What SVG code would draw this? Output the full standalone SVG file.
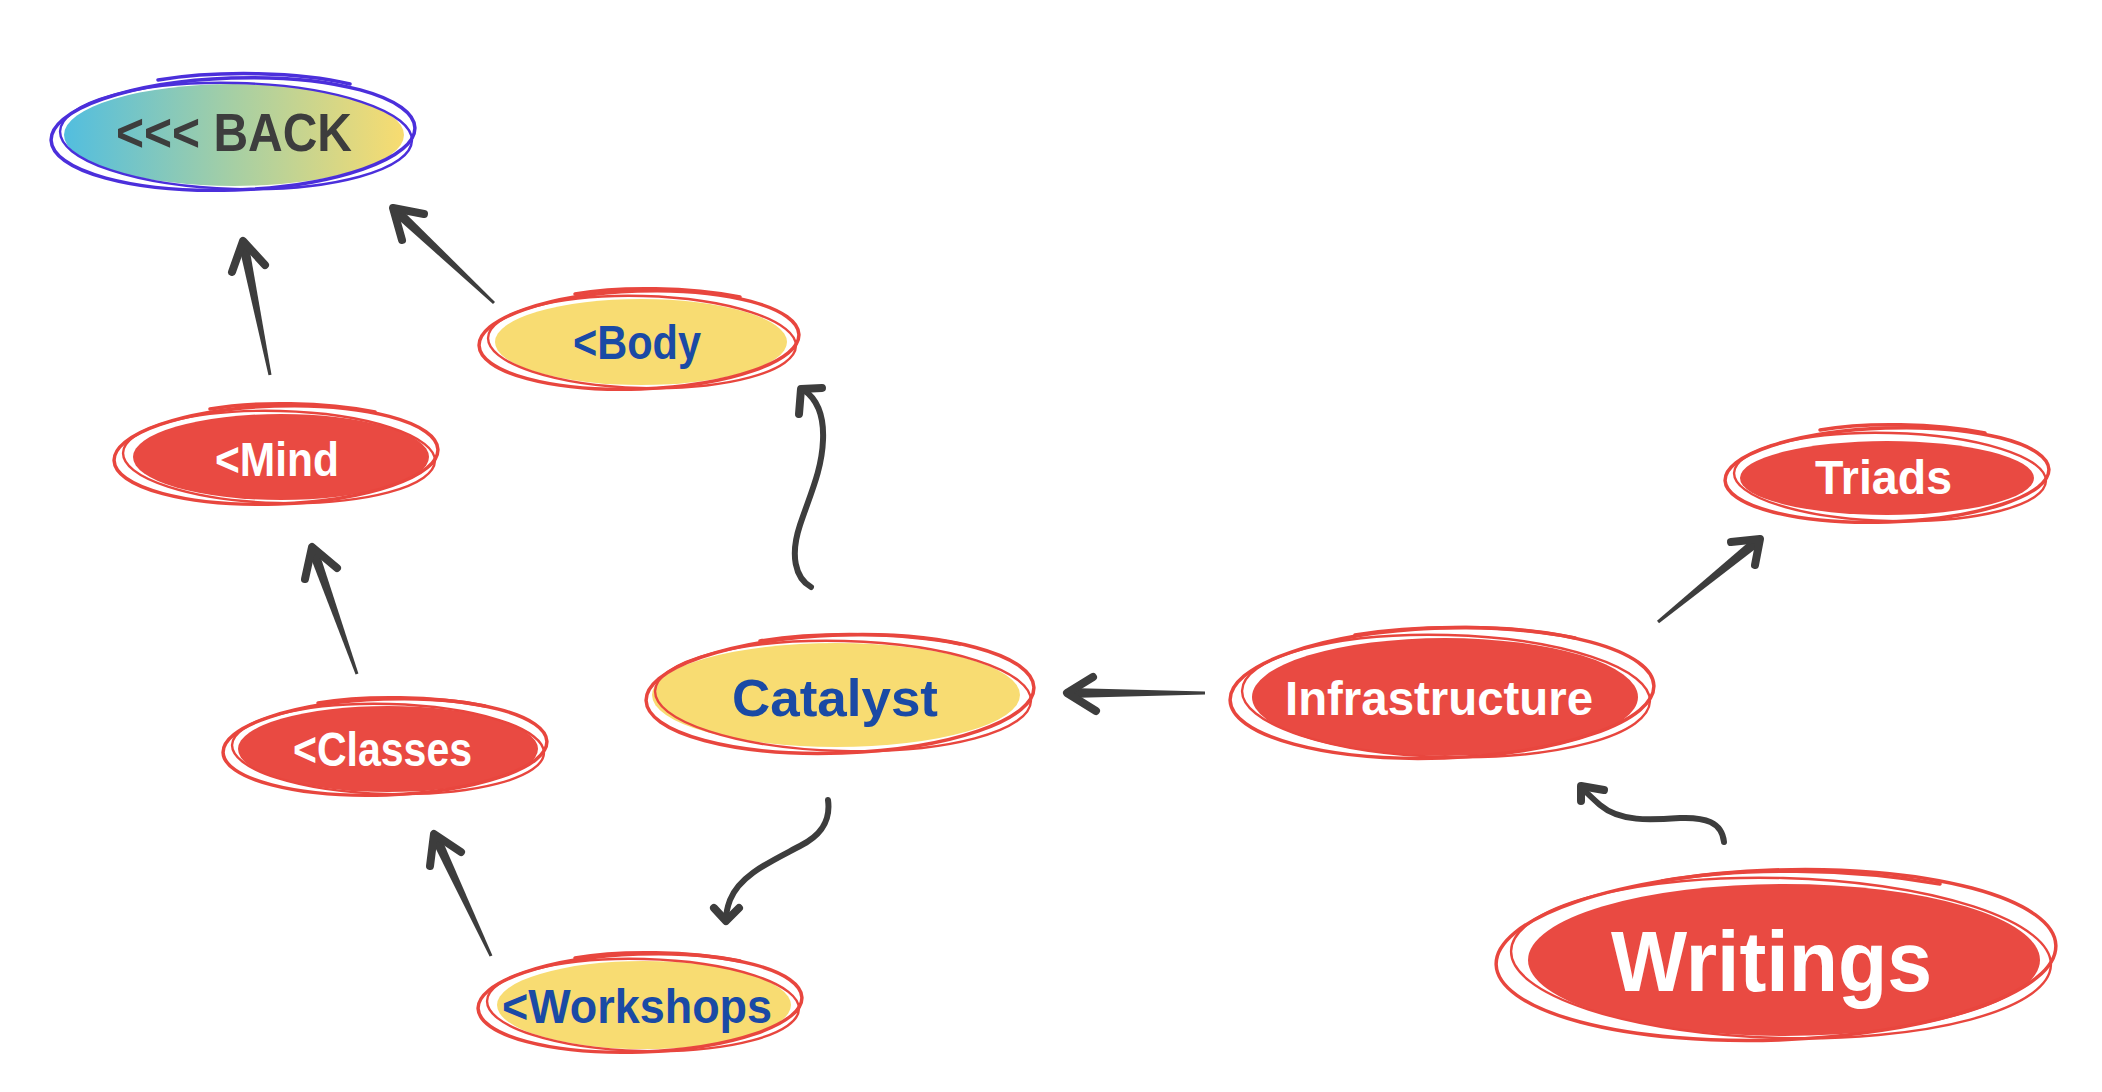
<svg xmlns="http://www.w3.org/2000/svg" width="2102" height="1092" viewBox="0 0 2102 1092">
<defs>
<linearGradient id="gback" x1="0" y1="0" x2="1" y2="0">
<stop offset="0" stop-color="#52bedf"/>
<stop offset="0.5" stop-color="#a6cfa4"/>
<stop offset="1" stop-color="#f8dc70"/>
</linearGradient>
<style>
.fr{fill:#e94a42}
.fy{fill:#f8dc72}
.ol{fill:none;stroke:#e8463e;stroke-width:3.5;stroke-linecap:round}
.ol2{fill:none;stroke:#e8463e;stroke-width:2.4;stroke-linecap:round}
.op{stroke:#4b2fdb}
.t{font-family:"Liberation Sans",Arial,sans-serif;font-weight:bold}
.tw{fill:#ffffff}
.tb{fill:#1a4aa5}
.td{fill:#3d3d3d}
.sh{fill:#3d3d3d}
.cv{fill:none;stroke:#3d3d3d;stroke-width:6;stroke-linecap:round;stroke-linejoin:round}
.hd{fill:none;stroke:#3d3d3d;stroke-width:8;stroke-linecap:round;stroke-linejoin:round}
</style>
</defs>
<rect width="2102" height="1092" fill="#ffffff"/>

<g id="connectors">
<!-- Mind -> BACK -->
<polygon class="sh" points="271.5,374.7 248.5,243 238.7,245 268.5,375.3"/>
<polyline class="hd" points="265,265 243,241 232,272"/>
<!-- Body -> BACK -->
<polygon class="sh" points="495,301.9 398.6,206.5 391.8,213.7 493,304.1"/>
<polyline class="hd" points="424,214 393,208 402,240"/>
<!-- Classes -> Mind -->
<polygon class="sh" points="358.4,673.5 317.7,548.1 308.3,551.5 355.6,674.5"/>
<polyline class="hd" points="337,568 312,547 305,579"/>
<!-- Workshops -> Classes -->
<polygon class="sh" points="492.4,955.4 439.8,834.6 430.8,838.8 489.6,956.6"/>
<polyline class="hd" points="461,852 434,834 430,866"/>
<!-- Infrastructure -> Catalyst -->
<polygon class="sh" points="1205,691.5 1070,688 1070,698 1205,694.5"/>
<polyline class="hd" points="1093,677 1067,693 1096,711"/>
<!-- Infrastructure -> Triads -->
<polygon class="sh" points="1659,623.2 1760.8,544.8 1754.5,537 1657,620.8"/>
<polyline class="hd" points="1731,542 1760,539 1755,565"/>
<!-- Catalyst -> Body -->
<path class="cv" d="M811,587 C795,578 790,555 800,525 C810,495 822,470 823,440 C824,418 818,400 804,390"/>
<polyline class="hd" points="799,414 801,389 822,388"/>
<!-- Catalyst -> Workshops -->
<path class="cv" d="M828,800 C831,822 820,836 800,846 C770,862 740,875 730,900 C727,908 726,915 726,920"/>
<polyline class="hd" points="714,908 726,921 739,908"/>
<!-- Writings -> Infrastructure -->
<path class="cv" d="M1724,842 C1722,822 1705,817 1680,818 C1650,820 1620,822 1600,805 C1592,798 1586,792 1582,788"/>
<polyline class="hd" points="1581,801 1581,786 1604,790"/>
</g>

<g id="node-back">
<ellipse cx="234" cy="135" rx="170" ry="51" fill="url(#gback)"/>
<ellipse class="ol op" cx="233" cy="134" rx="182" ry="56" transform="rotate(-2 233 134)"/>
<ellipse class="ol2 op" cx="236" cy="136" rx="176" ry="53" transform="rotate(1.5 236 136)"/>
<path class="ol op" d="M158,80 C220,70 300,72 350,84"/>
<text class="t td" x="116" y="151" font-size="54" font-weight="900" textLength="236" lengthAdjust="spacingAndGlyphs">&lt;&lt;&lt; BACK</text>
</g>

<g id="node-body">
<ellipse class="fy" cx="641" cy="342" rx="146" ry="43"/>
<ellipse class="ol" cx="639" cy="340" rx="160" ry="49" transform="rotate(-2 639 340)"/>
<ellipse class="ol2" cx="642" cy="342" rx="154" ry="46" transform="rotate(1.5 642 342)"/>
<path class="ol" d="M575,294 C620,286 690,287 740,297"/>
<text class="t tb" x="573" y="359" font-size="48" textLength="128" lengthAdjust="spacingAndGlyphs">&lt;Body</text>
</g>

<g id="node-mind">
<ellipse class="fr" cx="281" cy="457" rx="148" ry="43"/>
<ellipse class="ol" cx="276" cy="455" rx="162" ry="49" transform="rotate(-2 276 455)"/>
<ellipse class="ol2" cx="279" cy="457" rx="156" ry="46" transform="rotate(1.5 279 457)"/>
<path class="ol" d="M210,409 C255,401 325,402 375,412"/>
<text class="t tw" x="215" y="476" font-size="48" textLength="124" lengthAdjust="spacingAndGlyphs">&lt;Mind</text>
</g>

<g id="node-classes">
<ellipse class="fr" cx="388" cy="749" rx="150" ry="43"/>
<ellipse class="ol" cx="385" cy="747" rx="162" ry="48" transform="rotate(-2 385 747)"/>
<ellipse class="ol2" cx="388" cy="749" rx="156" ry="45" transform="rotate(1.5 388 749)"/>
<path class="ol" d="M318,703 C365,695 435,696 485,706"/>
<text class="t tw" x="293" y="766" font-size="48" textLength="179" lengthAdjust="spacingAndGlyphs">&lt;Classes</text>
</g>

<g id="node-catalyst">
<ellipse class="fy" cx="836" cy="695" rx="184" ry="52"/>
<ellipse class="ol" cx="840" cy="694" rx="194" ry="59" transform="rotate(-2 840 694)"/>
<ellipse class="ol2" cx="843" cy="696" rx="188" ry="55" transform="rotate(1.5 843 696)"/>
<path class="ol" d="M760,641 C815,632 900,632 960,644"/>
<text class="t tb" x="732" y="716" font-size="52" font-weight="900" textLength="206" lengthAdjust="spacingAndGlyphs">Catalyst</text>
</g>

<g id="node-workshops">
<ellipse class="fy" cx="644" cy="1005" rx="147" ry="44"/>
<ellipse class="ol" cx="640" cy="1003" rx="162" ry="49" transform="rotate(-2 640 1003)"/>
<ellipse class="ol2" cx="643" cy="1005" rx="156" ry="46" transform="rotate(1.5 643 1005)"/>
<path class="ol" d="M575,958 C620,950 690,951 740,961"/>
<text class="t tb" x="502" y="1023" font-size="48" textLength="270" lengthAdjust="spacingAndGlyphs">&lt;Workshops</text>
</g>

<g id="node-infrastructure">
<ellipse class="fr" cx="1445" cy="697" rx="193" ry="59"/>
<ellipse class="ol" cx="1442" cy="693" rx="212" ry="65" transform="rotate(-2 1442 693)"/>
<ellipse class="ol2" cx="1446" cy="696" rx="204" ry="61" transform="rotate(1.5 1446 696)"/>
<path class="ol" d="M1355,635 C1420,624 1510,625 1575,638"/>
<text class="t tw" x="1285" y="715" font-size="48" textLength="308" lengthAdjust="spacingAndGlyphs">Infrastructure</text>
</g>

<g id="node-triads">
<ellipse class="fr" cx="1887" cy="478" rx="147" ry="37"/>
<ellipse class="ol" cx="1887" cy="475" rx="162" ry="47" transform="rotate(-2 1887 475)"/>
<ellipse class="ol2" cx="1890" cy="477" rx="156" ry="44" transform="rotate(1.5 1890 477)"/>
<path class="ol" d="M1820,430 C1865,422 1935,423 1985,433"/>
<text class="t tw" x="1815" y="494" font-size="48" textLength="137" lengthAdjust="spacingAndGlyphs">Triads</text>
</g>

<g id="node-writings">
<ellipse class="fr" cx="1784" cy="960" rx="256" ry="76"/>
<ellipse class="ol" cx="1776" cy="955" rx="280" ry="85" transform="rotate(-2 1776 955)"/>
<ellipse class="ol2" cx="1781" cy="958" rx="270" ry="80" transform="rotate(1.5 1781 958)"/>
<path class="ol" d="M1662,881 C1740,867 1850,868 1940,884"/>
<text class="t tw" x="1611" y="991" font-size="86" textLength="321" lengthAdjust="spacingAndGlyphs">Writings</text>
</g>
</svg>
